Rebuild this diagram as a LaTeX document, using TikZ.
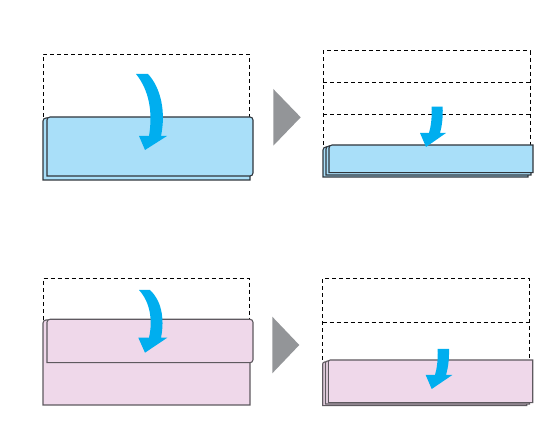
\documentclass[tikz,border=0pt]{standalone}
\usepackage{tikz}

\definecolor{sheetblue}{HTML}{A9DFF9}
\definecolor{sheetpink}{HTML}{EFD8EA}
\definecolor{arrowblue}{HTML}{00AEEF}
\definecolor{markgray}{HTML}{939598}
\definecolor{edgedark}{HTML}{30363C}
\definecolor{edgepink}{HTML}{5E595F}

\begin{document}
\begin{tikzpicture}[x=1pt,y=-1pt,
    foldline/.style={dashed,dash pattern=on 4pt off 3pt,line width=0.9pt},
    bluesheet/.style={fill=sheetblue,draw=edgedark,line width=1.1pt},
    pinksheet/.style={fill=sheetpink,draw=edgepink,line width=1.1pt},
    foldarrow/.style={fill=arrowblue,draw=none},
    nextmark/.style={fill=markgray,draw=none}]
\useasboundingbox (0,0) rectangle (555,430);

%draw top left: blue sheet folded once
    \draw[foldline] (43.3,117) -- (43.3,54) -- (249.3,54) -- (249.3,117);
    \draw[bluesheet] (43,180) [rounded corners=3pt] -- (43,118) [sharp corners] -- (250,118) -- (250,180) -- cycle;
    \draw[bluesheet,rounded corners=3pt] (47,176) -- (47,117) -- (253,117) -- (253,176) [sharp corners] -- cycle;
    \fill[foldarrow] (136,74) -- (148,74) .. controls (161,88) and (166,112) .. (161,136)
        -- (167,136) -- (145,150) -- (139,136) -- (149,136)
        .. controls (153,112) and (149,90) .. (136,74) -- cycle;

%draw top right: blue sheet folded three times
    \draw[foldline] (323.3,145) -- (323.3,50.7) -- (530,50.7) -- (530,145);
    \foreach \y in {82.3,114}
    \draw[foldline] (323.3,\y) -- (530,\y);
    \draw[bluesheet] (323,177) [rounded corners=3pt] -- (323,147) [sharp corners] -- (528,147) -- (528,177) -- cycle;
    \draw[bluesheet] (326,175) [rounded corners=3pt] -- (326,146) [sharp corners] -- (531,146) -- (531,175) -- cycle;
    \draw[bluesheet] (329,172.7) [rounded corners=3pt] -- (329,145) [sharp corners] -- (533,145) -- (533,172.7) -- cycle;
    \fill[foldarrow] (431.7,106.7) -- (442.7,106.7) .. controls (443,118) and (442,126) .. (440,133)
        -- (446,133) -- (426,147) -- (420,133) -- (429,133)
        .. controls (431,126) and (432,118) .. (431.7,106.7) -- cycle;

%draw gray marks between steps
    \fill[nextmark] (273.3,89) -- (300.7,117.3) -- (273.3,145.7) -- cycle;
    \fill[nextmark] (272.3,316.7) -- (299.3,345) -- (272.3,373.3) -- cycle;

%draw bottom left: pink sheet folded once
    \draw[foldline] (43.3,320) -- (43.3,278.3) -- (249.3,278.3) -- (249.3,320);
    \draw[pinksheet] (43,405) [rounded corners=3pt] -- (43,320) [sharp corners] -- (250,320) -- (250,405) -- cycle;
    \draw[pinksheet,rounded corners=3pt] (47,362.7) -- (47,319.3) -- (253,319.3) -- (253,362.7) [sharp corners] -- cycle;
    \fill[foldarrow] (139,290) -- (150,290) .. controls (161,300) and (165,318) .. (161,337.7)
        -- (167.3,337.7) -- (145,352.7) -- (138.3,337.7) -- (149,337.7)
        .. controls (153,320) and (150,302) .. (139,290) -- cycle;

%draw bottom right: pink sheet folded twice
    \draw[foldline] (322.7,360) -- (322.7,278.3) -- (529.3,278.3) -- (529.3,360);
    \draw[foldline] (322.7,322.3) -- (529.3,322.3);
    \draw[pinksheet] (322.7,405.7) [rounded corners=2pt] -- (322.7,362) [sharp corners] -- (526.7,362) -- (526.7,405.7) -- cycle;
    \draw[pinksheet] (325.5,404) [rounded corners=2pt] -- (325.5,361) [sharp corners] -- (529.5,361) -- (529.5,404) -- cycle;
    \draw[pinksheet] (328.3,402.7) [rounded corners=2pt] -- (328.3,360) [sharp corners] -- (532.7,360) -- (532.7,402.7) -- cycle;
    \fill[foldarrow] (437.7,349) -- (449,349) .. controls (449.3,360) and (448,368) .. (446,375)
        -- (452.3,375) -- (431.7,389) -- (425.7,375) -- (435,375)
        .. controls (437,368) and (438,360) .. (437.7,349) -- cycle;

\end{tikzpicture}
\end{document}
